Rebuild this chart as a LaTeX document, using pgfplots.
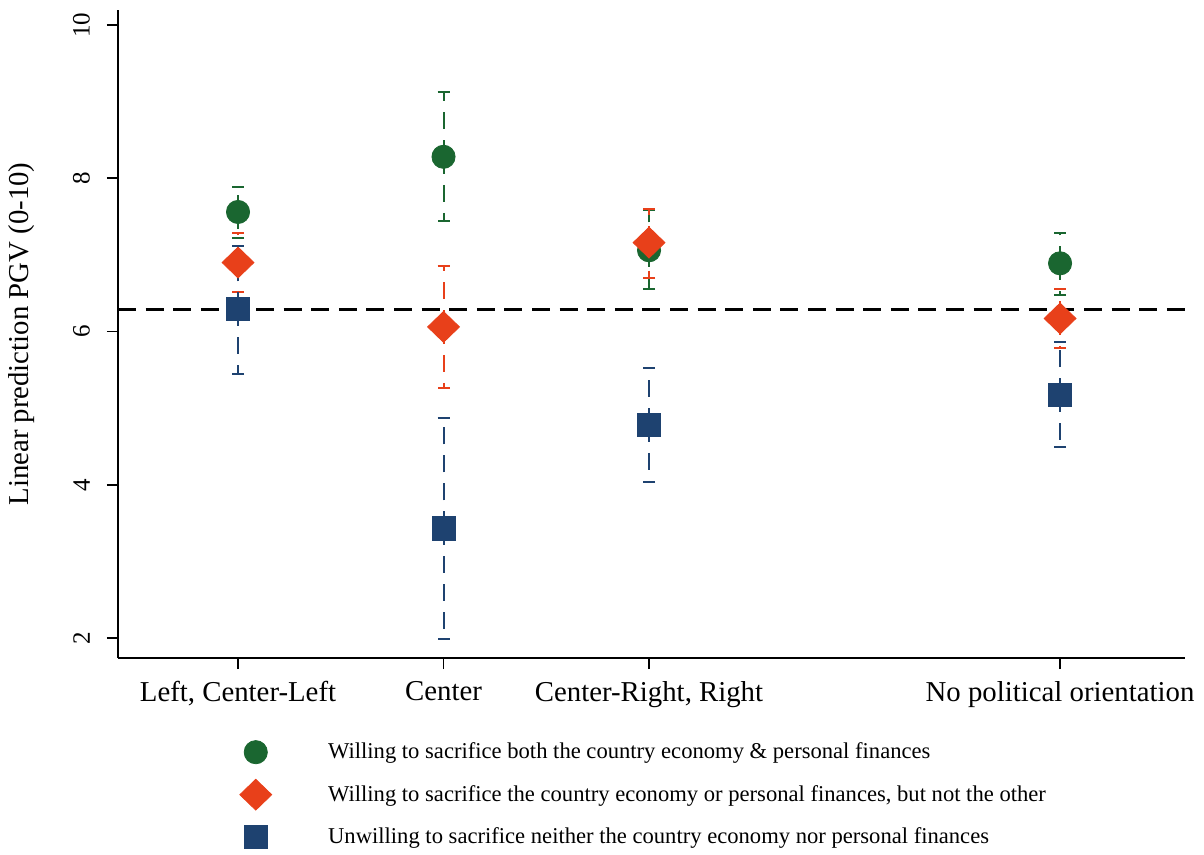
\documentclass[border=0pt]{standalone}
\usepackage{fontspec}
\setmainfont{Liberation Serif}
\usepackage{pgfplots}
\pgfplotsset{compat=1.18}
\usepackage{pgfplotstable}

\definecolor{cgreen}{RGB}{26,102,48}
\definecolor{corange}{RGB}{232,64,26}
\definecolor{cblue}{RGB}{30,66,112}

% point estimate with lower and upper bound of the confidence interval
\pgfplotstableread{
x y lo hi
1 7.56 7.22 7.89
2 8.28 7.44 9.12
3 7.06 6.56 7.58
5 6.89 6.48 7.29
}\both
\pgfplotstableread{
x y lo hi
1 6.90 6.52 7.29
2 6.06 5.26 6.85
3 7.16 6.70 7.60
5 6.17 5.79 6.55
}\either
\pgfplotstableread{
x y lo hi
1 6.29 5.45 7.12
2 3.43 1.99 4.87
3 4.78 4.03 5.53
5 5.17 4.49 5.86
}\neither

\pgfplotsset{
  ci/.style={
    error bars/.cd, y dir=both, y explicit, error mark=-,
    error mark options={solid, rotate=90, mark size=3pt, line width=1pt, #1},
    error bar style={line width=1pt, dash pattern=on 8.5pt off 5.5pt, #1},
  },
}

\begin{document}
\begin{tikzpicture}
\begin{axis}[
  set layers, mark layer=axis foreground,
  scale only axis, width=533.5pt, height=324pt,
  xmin=0.416, xmax=5.608, ymin=1.739, ymax=10.196,
  axis lines=left, axis line style={-, line width=0.8pt},
  xtick={1,2,3,5},
  xticklabels={{Left, Center-Left},Center,{Center-Right, Right},No political orientation},
  ytick={2,4,6,8,10},
  tick align=outside, major tick length=5.5pt,
  tick style={black, line width=0.8pt},
  /pgf/number format/assume math mode=true,
  xticklabel style={yshift=-2.5pt, font=\fontsize{14.4}{16}\selectfont},
  yticklabel style={xshift=-5pt, rotate=90, anchor=south, font=\fontsize{12.5}{14}\selectfont},
  ylabel={Linear prediction PGV (0-10)},
  ylabel style={at={(axis description cs:-0.090,0.5)}, anchor=center, font=\fontsize{14.4}{16}\selectfont},
  legend style={draw=none, fill=none, at={(0.110,-0.1185)}, anchor=north west,
    inner sep=0pt, row sep=4.25pt, column sep=24.2pt,
    nodes={inner ysep=1pt},
    font=\fontsize{11.3}{13}\selectfont, cells={anchor=west}},
  legend image code/.code={\path[draw=none, fill=none] (-10pt,-8.5pt) rectangle (10pt,8.5pt);
    \draw[#1] plot coordinates {(0pt,0pt)};},
  % fixed margins around the axis
  after end axis/.code={\path ([xshift=-59pt,yshift=-98pt]rel axis cs:0,0)
    ([xshift=9.5pt,yshift=5pt]rel axis cs:1,1);},
]
\addplot[cgreen, only marks, mark=*, mark size=5.8pt, mark options={solid, fill=cgreen, draw=cgreen}, ci=cgreen]
  table[x=x, y=y, y error plus expr=\thisrow{hi}-\thisrow{y}, y error minus expr=\thisrow{y}-\thisrow{lo}] {\both};
\addlegendentry{Willing to sacrifice both the country economy \& personal finances}
\addplot[corange, only marks, mark=diamond*, mark size=7.7pt, mark options={solid, xscale=1.38, fill=corange, draw=corange}, ci=corange]
  table[x=x, y=y, y error plus expr=\thisrow{hi}-\thisrow{y}, y error minus expr=\thisrow{y}-\thisrow{lo}] {\either};
\addlegendentry{Willing to sacrifice the country economy or personal finances, but not the other}
\addplot[cblue, only marks, mark=square*, mark size=5.8pt, mark options={solid, fill=cblue, draw=cblue}, ci=cblue]
  table[x=x, y=y, y error plus expr=\thisrow{hi}-\thisrow{y}, y error minus expr=\thisrow{y}-\thisrow{lo}] {\neither};
\addlegendentry{Unwilling to sacrifice neither the country economy nor personal finances}
% overall mean
\addplot[black, line width=1.35pt, dash pattern=on 9pt off 4.8pt, forget plot]
  coordinates {(0.416,6.29) (5.608,6.29)};
\end{axis}
\end{tikzpicture}
\end{document}
